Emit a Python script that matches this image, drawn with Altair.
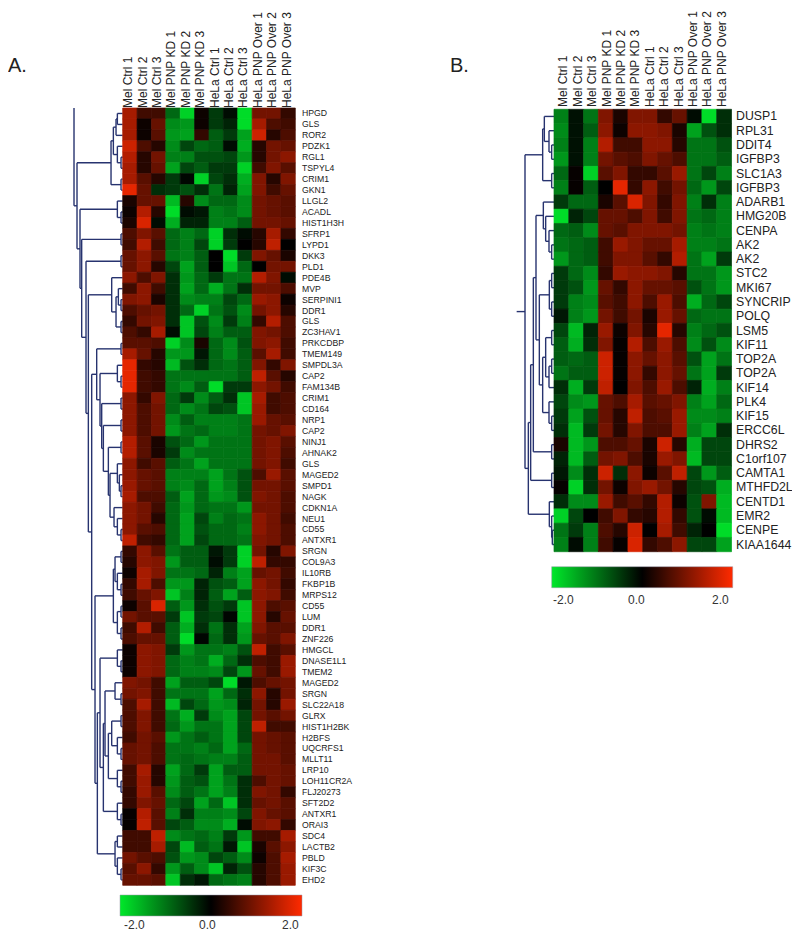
import altair as alt
import pandas as pd

FONT = "Liberation Sans"
columns = ["Mel Ctrl 1", "Mel Ctrl 2", "Mel Ctrl 3", "Mel PNP KD 1", "Mel PNP KD 2", "Mel PNP KD 3",
           "HeLa Ctrl 1", "HeLa Ctrl 2", "HeLa Ctrl 3", "HeLa PNP Over 1", "HeLa PNP Over 2", "HeLa PNP Over 3"]

genes_a = ["HPGD", "GLS", "ROR2", "PDZK1", "RGL1", "TSPYL4", "CRIM1", "GKN1", "LLGL2", "ACADL", "HIST1H3H", "SFRP1",
           "LYPD1", "DKK3", "PLD1", "PDE4B", "MVP", "SERPINI1", "DDR1", "GLS", "ZC3HAV1", "PRKCDBP", "TMEM149",
           "SMPDL3A", "CAP2", "FAM134B", "CRIM1", "CD164", "NRP1", "CAP2", "NINJ1", "AHNAK2", "GLS", "MAGED2", "SMPD1",
           "NAGK", "CDKN1A", "NEU1", "CD55", "ANTXR1", "SRGN", "COL9A3", "IL10RB", "FKBP1B", "MRPS12", "CD55", "LUM",
           "DDR1", "ZNF226", "HMGCL", "DNASE1L1", "TMEM2", "MAGED2", "SRGN", "SLC22A18", "GLRX", "HIST1H2BK", "H2BFS",
           "UQCRFS1", "MLLT11", "LRP10", "LOH11CR2A", "FLJ20273", "SFT2D2", "ANTXR1", "ORAI3", "SDC4", "LACTB2", "PBLD",
           "KIF3C", "EHD2"]

values_a = [
    [1.3, .5, .5, -.9, -1.8, .1, -.5, -.1, -1.9, .9, .9, .4],
    [1.3, .1, .8, -1.2, -1.3, .1, -.5, -.3, -1.9, 1.3, .6, .5],
    [1.3, .1, .7, -1.3, -1.4, .4, -.8, -.5, -1.4, 1.6, .3, .6],
    [1.6, .6, .3, -1.2, -.6, -.9, -.8, -.1, -1.5, .3, .9, .8],
    [1.4, .3, .9, -1.1, -1.1, -.7, -.7, -.6, -1.3, .3, .9, 1.1],
    [1.3, .3, .8, -1.4, -.6, -.8, -.5, -.5, -1.8, .5, 1, .7],
    [1.3, .7, .3, -.5, -.05, -1.8, -.6, -.4, -1.5, 1, .3, 1],
    [1.8, .8, -.4, -.5, -.7, -.4, -1, -.3, -1.4, 1, .5, .8],
    [.2, .8, .8, -1.6, .3, -1.2, -.9, -.9, -1.2, .9, .8, .7],
    [.1, 1.4, .3, -1.9, -.1, -.2, -1.1, -1, -1.2, .9, .8, .7],
    [.2, 1.7, -.1, -1.5, -.3, -.3, -1.1, -1.1, -.8, .9, .9, .8],
    [.6, 1, .7, -.9, -1.1, -.9, -1.8, -.4, -.1, .3, 1.3, .4],
    [.5, 1.4, .5, -.9, -1.1, -.6, -1.8, -.5, 0, .3, 1.5, 0],
    [.8, 1.1, .7, -1, -1.1, -.8, 0, -1.9, -.5, 1, .8, .2],
    [.8, 1.1, .3, -.6, -1.4, -.8, 0, -1.7, -.9, 0, .9, .9],
    [1.1, .6, 1, -.4, -1.3, -.9, -.5, -1, -1, 1.4, 1, -.1],
    [.5, 1.1, .5, -.4, -1.4, -.9, -1.5, -1, -.4, .9, .9, .6],
    [1, 1.1, .2, -.4, -1.2, -1.1, -1.1, -.6, -.9, 1.2, 1.1, .1],
    [.6, .8, .9, -.4, -.9, -1.8, -1, -.7, -1.2, .9, 1.1, .3],
    [.4, .9, 1, -.4, -1.7, -.7, -1.2, -.5, -1.1, .4, 1.4, .6],
    [.6, .4, 1.3, -.1, -1.7, -.6, -1.1, -.8, -.8, 1, .9, .6],
    [.7, .7, .6, -1.8, -1.2, .2, -.9, -1.2, -.7, 1, 1.1, .5],
    [1.3, .8, .3, -1.3, -1.3, -.2, -.9, -1.2, -.8, .7, 1.3, .5],
    [1.8, .4, .3, -1.6, -.7, -.4, -.9, -1, -.8, 1, .4, 1],
    [1.8, .5, .4, -1, -1, -1, -1, -1, -.8, 1.5, .7, .3],
    [1.8, .5, .4, -1, -1.2, -.8, -1.9, -.5, -.5, 1.1, .9, .5],
    [1.1, .4, 1, -.9, -.5, -1.2, -.8, -.4, -1.7, 1.3, .5, .6],
    [1.1, .6, .9, -.9, -1.2, -1, -.6, -.7, -1.7, 1.2, .5, .6],
    [1.1, .6, .9, -1.2, -.8, -1.1, -1.1, -1.1, -1, 1.2, .8, .7],
    [1.1, .6, .9, -1.3, -1, -.9, -1.1, -1.1, -1, .9, .8, 1],
    [1.4, .7, .2, -.7, -.9, -1.3, -1, -1, -1, .9, 1, .7],
    [1.4, .7, .2, -.5, -1.2, -1, -1, -1, -1, .9, 1, .6],
    [1.1, .5, .7, -.8, -1, -1.4, -1, -1, -1, .9, 1, .5],
    [1.1, .8, .7, -1.1, -1.1, -1.1, -1.4, -1, -.7, .6, 1.2, .7],
    [1.2, .8, .7, -1.1, -1.2, -.9, -1.4, -1.1, -.7, .9, .9, .7],
    [1.3, .6, .6, -.8, -1.4, -.9, -1.3, -1.2, -.7, 1, .9, .6],
    [1.1, .9, .5, -.9, -1.3, -.9, -1, -1, -1.3, .9, .9, .6],
    [1.1, .9, .3, -.9, -1.4, -.6, -1.1, -.9, -1, 1.1, .9, .5],
    [1.1, .7, .6, -.9, -1.4, -.7, -.9, -.9, -1.1, 1.1, .9, .6],
    [1.5, .5, .4, -.9, -1.4, -.6, -.9, -.9, -1, 1, .9, .6],
    [.4, 1.1, .7, -1, -.8, -.8, -.2, -.5, -1.8, .9, .3, 1],
    [.3, 1.1, 1, -1.3, -.8, -.8, -.1, -.5, -1.8, 1.5, .4, .4],
    [.1, 1.3, 1, -1, -1, -.9, -.3, -1.1, -1.4, .8, .9, .5],
    [.4, 1.3, .6, -1.3, -1.3, -.3, -.7, -.8, -1.4, 1.1, .9, .4],
    [.5, .8, 1, -1.7, -1.1, -.3, -.8, -1.4, -.8, 1.1, 1, .5],
    [.1, .7, 1.7, -.8, -1.3, -.4, -.7, -.5, -1.7, 1.1, .6, .7],
    [.9, .7, .7, -.5, -1.7, -.5, -.6, -.05, -1.7, 1.1, .3, .8],
    [.5, 1.4, .5, -.8, -1.5, -.4, -1, -.4, -1.4, 1, .7, .7],
    [.6, .8, .8, -.8, -1.9, -.05, -.9, -.4, -1.3, .8, .7, 1],
    [.1, 1.1, 1, -.5, -1.3, -1, -1, -1.1, -.7, 1.5, .5, .7],
    [.1, 1.1, 1, -.9, -1.1, -1, -1.5, -.9, -.4, .6, .5, 1.2],
    [.1, 1.1, 1, -.9, -1.1, -1.1, -1.2, -.6, -1.3, .8, .5, 1.2],
    [1, .9, .5, -1.4, -.8, -.8, -.6, -1.9, -.2, .6, .8, .9],
    [.9, 1, .5, -1, -1, -1, -1.4, -.9, -.4, 1.1, .3, .9],
    [.6, 1.3, .5, -1.6, -.6, -.9, -1.3, -1.2, -.3, .9, .3, 1.2],
    [.6, 1, .5, -1, -1.5, -.5, -1.2, -1.4, -.6, .9, .7, .9],
    [.6, 1, .5, -.9, -1.3, -1, -1, -1.4, -.6, 1.5, .5, .5],
    [.5, .9, .7, -1.3, -1, -.8, -1, -1.4, -.6, .9, .8, .7],
    [.8, .9, .6, -1, -1, -1.1, -.9, -1.4, -.9, .9, .8, .7],
    [.8, .9, .6, -1, -.9, -1, -1.1, -1.1, -.8, .9, .9, .7],
    [.5, 1.3, .3, -1.4, -.9, -.5, -1.4, -.8, -.8, .9, .9, .8],
    [.5, 1.2, .3, -1.3, -.8, -.7, -1.4, -1, -.4, .6, .9, .8],
    [.4, 1.2, .7, -1.2, -.8, -1, -1.4, -1.1, -.4, 1, .9, .4],
    [.4, 1, .8, -.9, -.6, -1.4, -.9, -1.7, -.4, .8, .9, .7],
    [.05, 1.4, .7, -1.1, -.4, -1.1, -1.1, -1.2, -.6, 1, .8, .7],
    [.05, 1.5, .7, -.6, -.8, -1.2, -1.2, -1.5, -.1, 1, 1.1, .4],
    [.5, .5, 1.5, -1.2, -1, -.9, -1.1, -.5, -1.3, .5, .5, 1.3],
    [.5, .5, 1.3, -.6, -1.6, -.8, -1, -.2, -1.7, .2, .7, 1.1],
    [.9, .7, .6, -.7, -1.3, -1.2, -.6, -.8, -1.2, .1, .6, 1.3],
    [.7, 1.1, .4, -1.3, -.8, -1.2, -1.7, -.3, -.7, .3, .6, 1.2],
    [.8, .8, .7, -1.7, -.4, -.2, -.9, -1, -1.1, .3, .6, 1.2],
]

genes_b = ["DUSP1", "RPL31", "DDIT4", "IGFBP3", "SLC1A3", "IGFBP3", "ADARB1", "HMG20B", "CENPA", "AK2", "AK2", "STC2",
           "MKI67", "SYNCRIP", "POLQ", "LSM5", "KIF11", "TOP2A", "TOP2A", "KIF14", "PLK4", "KIF15", "ERCC6L", "DHRS2",
           "C1orf107", "CAMTA1", "MTHFD2L", "CENTD1", "EMR2", "CENPE", "KIAA1644"]

values_b = [
    [-1.1, -.15, -1, 1, .2, 1, 1, .4, .8, -.1, -1.9, -.4],
    [-1.2, -.15, -.8, 1.1, .1, 1.1, 1.1, 1, .2, -1.4, -.7, -.4],
    [-1.1, -.15, -1.1, 1.4, .5, .5, 1.1, 1.1, .3, -1, -1, -.7],
    [-1.3, -.15, -1.1, .9, .7, .6, 1, .8, .6, -1, -1, -.8],
    [-.9, .05, -1.8, .7, 1, .4, .4, .7, 1.2, -1, -.6, -1.1],
    [-1.1, .05, -.8, 0, 1.8, .4, 1.1, .5, .9, -.9, -1.3, -.6],
    [-.5, -.9, -.9, .2, .7, 1.7, 1, .4, 1, -1.1, -.4, -1.1],
    [-1.9, -.3, -.6, .8, .8, .6, 1, .5, 1, -1, -.9, -1.1],
    [-.9, -.8, -1.2, .8, .7, 1, 1, 1, .9, -1.1, -1, -1.1],
    [-1, -.9, -.8, .5, 1.2, 1, .8, .8, 1.3, -1.1, -1.1, -1],
    [-1.3, -.9, -.8, .5, 1, 1, .7, .4, 1.4, -1, -1.4, -.5],
    [-.5, -.9, -1.2, .4, 1.2, 1.1, 1.1, 1, .3, -1, -1, -1.3],
    [-.5, -.7, -1.3, .8, .4, 1.1, .8, .8, .7, -.7, -1, -1.3],
    [-.5, -1.1, -1.2, .7, .5, 1.1, .6, 1.2, .6, -1.5, -.9, -.6],
    [-.2, -1.1, -1.3, .9, .5, .9, .2, 1.2, .8, -.9, -1, -1],
    [-.6, -1.6, -.3, 1.2, .1, 1, .3, 1.8, .3, -1.1, -.9, -.7],
    [-.8, -1.5, -.4, 1, .05, 1.4, .6, 1.2, .6, -1.2, -.7, -1.2],
    [-.8, -.9, -.8, 1.6, .05, 1.1, .8, 1.1, .7, -.7, -1.4, -1],
    [-1, -.8, -.8, 1.6, .05, 1.1, .4, 1.1, .8, -1, -1.4, -.5],
    [-.4, -1.5, -.5, 1.5, 0, 1, .6, 1.2, .6, -.3, -1.5, -1.1],
    [-.6, -1.2, -1.3, .8, .6, 1.3, .7, .8, 1, -1.1, -1.4, -.9],
    [-.5, -1.4, -.7, .8, .3, 1.5, .6, .7, 1.2, -1.2, -1.2, -1.1],
    [-.4, -1.6, -.5, .9, .3, 1, .6, .6, 1.2, -1.1, -1.4, -.4],
    [.2, -1.6, -1.3, .6, .6, .8, .2, 1.6, .3, -1.5, -.6, -.6],
    [-.3, -1.6, -.8, .9, 1, .6, .2, 1.2, 1, -1.6, -.6, -.6],
    [-.2, -1.2, -.4, 1.6, -.4, 1.1, .1, .7, 1.5, -.6, -1.3, -.8],
    [.05, -1.8, -.4, .9, .1, 1, 1.2, .9, .3, -.6, -.7, -1.5],
    [-.4, -1.2, -1.2, 1.2, .5, .7, .4, 1.4, .1, -.7, 1, -1.6],
    [-1.8, -.6, 0, .5, 1, .4, .3, 1.4, .4, -.7, -.1, -1.6],
    [-1, -.5, -1.1, .6, .3, 1.6, 0, 1.3, .5, -.3, 0, -1.9],
    [-1.1, -.1, -1.1, .5, .05, 1.7, .4, .6, 1.1, -.6, -.6, -1.4],
]

# Colour-bar captions of each panel.
bar_captions = ["-2.0", "0.0", "2.0"]
bar_caption_x_a = [116, 191, 274]
bar_caption_x_b = [545, 620, 704]

# Dendrogram trees: (merge level, upper child, lower child); integers are rows.
a_top = (153, (160, (168, (172, 0, 1), 2), (172, 3, (183, 4, 5))), (183, 6, 7))
a_k = (150, (172, 32, (178, 33, (183, 34, 35))), (162, 36, (172, 37, (183, 38, 39))))
a_f = (110, (183, 21, 22), (120, (172, 23, (183, 24, 25)),
       (125, (183, 26, 27), (130, (183, 28, 29), (145, (183, 30, 31), a_k)))))
a_m = (160, (165, (183, 40, 41), (172, 42, (183, 43, 44))), (172, (183, 45, 46), (183, 47, 48)))
a_q = (145, (155, (183, 55, 56), (172, 57, (183, 58, 59))), (172, 60, (183, 61, 62)))
a_t = (120, (172, 49, (183, 50, 51)), (130, (135, (165, 52, (183, 53, 54)), a_q), (172, 63, (183, 64, 65))))
a_x = (165, (172, 66, 67), (172, 68, (183, 69, 70)))
a_v = (105, a_m, (112, a_t, a_x))
a_e = (155, 15, (168, (175, 16, (183, 17, 18)), (183, 19, 20)))
tree_a = (51, a_top, (60, (172, 8, (183, 9, 10)), (65, (183, 11, 12),
          (78, (183, 13, 14), (85, a_e, (95, a_f, a_v))))))

b_t = (128, (133, 0, (147, 1, (155, 2, 3))), (155, 4, 5))
b_x = (130, 6, (137, 7, (147, 8, (155, 9, 10))))
b_y1 = (148, (155, 11, 12), (155, 13, 14))
b_y2 = (128, (137, (155, 15, 16), (147, (155, 17, 18), 19)), (147, 20, (155, 21, 22)))
b_a1 = (100, (108, b_x, (118, b_y1, b_y2)), (155, 23, 24))
b_a3 = (85, (92, b_a1, (155, 25, 26)), (148, 27, (155, 28, (157, 29, 30))))
tree_b = (75, b_t, b_a3)


def cells(genes, values):
    return pd.DataFrame([
        {"row": r, "col": c, "v": values[r][j]}
        for r in range(len(genes)) for j, c in enumerate(columns)
    ])


def segments(tree, leaf_level):
    segs = []

    def walk(node):
        if isinstance(node, int):
            return leaf_level, float(node)
        level, up, low = node
        lu, yu = walk(up)
        ll, yl = walk(low)
        segs.append({"x": level, "x2": level, "y": yu, "y2": yl})
        segs.append({"x": level, "x2": lu, "y": yu, "y2": yu})
        segs.append({"x": level, "x2": ll, "y": yl, "y2": yl})
        return level, (yu + yl) / 2

    root = walk(tree)
    return segs, root


segs_a, root_a = segments(tree_a, 188)
segs_a.append({"x": 42, "x2": 42, "y": -0.5, "y2": root_a[1]})
segs_a.append({"x": 42, "x2": root_a[0], "y": root_a[1], "y2": root_a[1]})
segs_b, root_b = segments(tree_b, 162)
segs_b.append({"x": 50, "x2": root_b[0], "y": root_b[1], "y2": root_b[1]})

heat_scale = alt.Scale(type="linear", domain=[-2, 0, 2], range=["#00e82a", "#000000", "#ff2a00"],
                       clamp=True, interpolate="rgb")


def panel(genes, values, segs, xr, label_xr, yr, level_max, level_range, gene_x, gene_size, label_y, legend_xy,
          legend_len, caption_x, caption_y):
    n = len(genes)
    rows = list(range(n))
    xs = alt.Scale(domain=columns, range=xr, paddingInner=0, paddingOuter=0)
    xl = alt.Scale(domain=columns, range=label_xr, paddingInner=0, paddingOuter=0)
    ys = alt.Scale(domain=rows, range=yr, paddingInner=0, paddingOuter=0)
    heat = alt.Chart(cells(genes, values)).mark_rect(strokeWidth=0.7).encode(
        x=alt.X("col:N", scale=xs, axis=None),
        y=alt.Y("row:O", scale=ys, axis=None),
        stroke=alt.Stroke("v:Q", scale=heat_scale, legend=None),
        color=alt.Color(
            "v:Q",
            title=None,
            scale=heat_scale,
            legend=alt.Legend(
                orient="none", legendX=legend_xy[0], legendY=legend_xy[1], direction="horizontal",
                gradientLength=legend_len, gradientThickness=21, values=[-2, 0, 2],
                labelExpr="''", labelFontSize=1,
                gradientStrokeColor="#9a9aa8", gradientStrokeWidth=0.5,
            ),
        ),
    )
    col_labels = alt.Chart(pd.DataFrame({"col": columns})).mark_text(
        angle=270, align="left", baseline="middle", font=FONT, fontSize=12, color="#222222"
    ).encode(
        x=alt.X("col:N", scale=xl, axis=None),
        y=alt.value(label_y),
        text="col:N",
    )
    gene_labels = alt.Chart(pd.DataFrame({"row": rows, "gene": genes})).mark_text(
        align="left", baseline="middle", font=FONT, fontSize=gene_size, color="#222222"
    ).encode(
        x=alt.value(gene_x),
        y=alt.Y("row:O", scale=ys, axis=None),
        text="gene:N",
    )
    dx = alt.Scale(domain=[0, level_max], range=level_range)
    dy = alt.Scale(domain=[-0.5, n - 0.5], range=yr)
    dendro = alt.Chart(pd.DataFrame(segs)).mark_rule(color="#27336f", strokeWidth=1.4).encode(
        x=alt.X("x:Q", scale=dx, axis=None),
        x2="x2:Q",
        y=alt.Y("y:Q", scale=dy, axis=None),
        y2="y2:Q",
    )
    captions = alt.Chart(pd.DataFrame({"t": bar_captions, "px": caption_x})).mark_text(
        align="left", baseline="middle", font=FONT, fontSize=12, color="#333333"
    ).encode(
        x=alt.X("px:Q", scale=alt.Scale(domain=[0, 784], range=[0, 784]), axis=None),
        y=alt.value(caption_y),
        text="t:N",
    )
    return [dendro, heat, col_labels, gene_labels, captions]


layers_a = panel(genes_a, values_a, segs_a, [114.7, 287.3], [113, 285.8], [100, 877.3], 188, [52, 114.7], 294, 8.7,
                 100, (112, 887), 182, bar_caption_x_a, 917)
layers_b = panel(genes_b, values_b, segs_b, [546, 723.5], [548.1, 720.9], [101.3, 543.7], 162, [492, 546], 728, 12.3,
                 99, (543.7, 558.7), 181, bar_caption_x_b, 592)

marks = alt.Chart(pd.DataFrame({"t": ["A.", "B."], "px": [0, 442]})).mark_text(
    align="left", baseline="middle", font=FONT, fontSize=20, color="#222222"
).encode(
    x=alt.X("px:Q", scale=alt.Scale(domain=[0, 784], range=[0, 784]), axis=None),
    y=alt.value(58),
    text="t:N",
)

chart = alt.layer(*layers_a, *layers_b, marks).resolve_scale(
    x="independent", y="independent", color="independent"
).properties(
    width=784, height=923, padding=0, autosize=alt.AutoSizeParams(type="none"),
    background="white",
).configure_view(stroke=None)

chart.save("out.html", embed_options={"renderer": "svg", "actions": False})
